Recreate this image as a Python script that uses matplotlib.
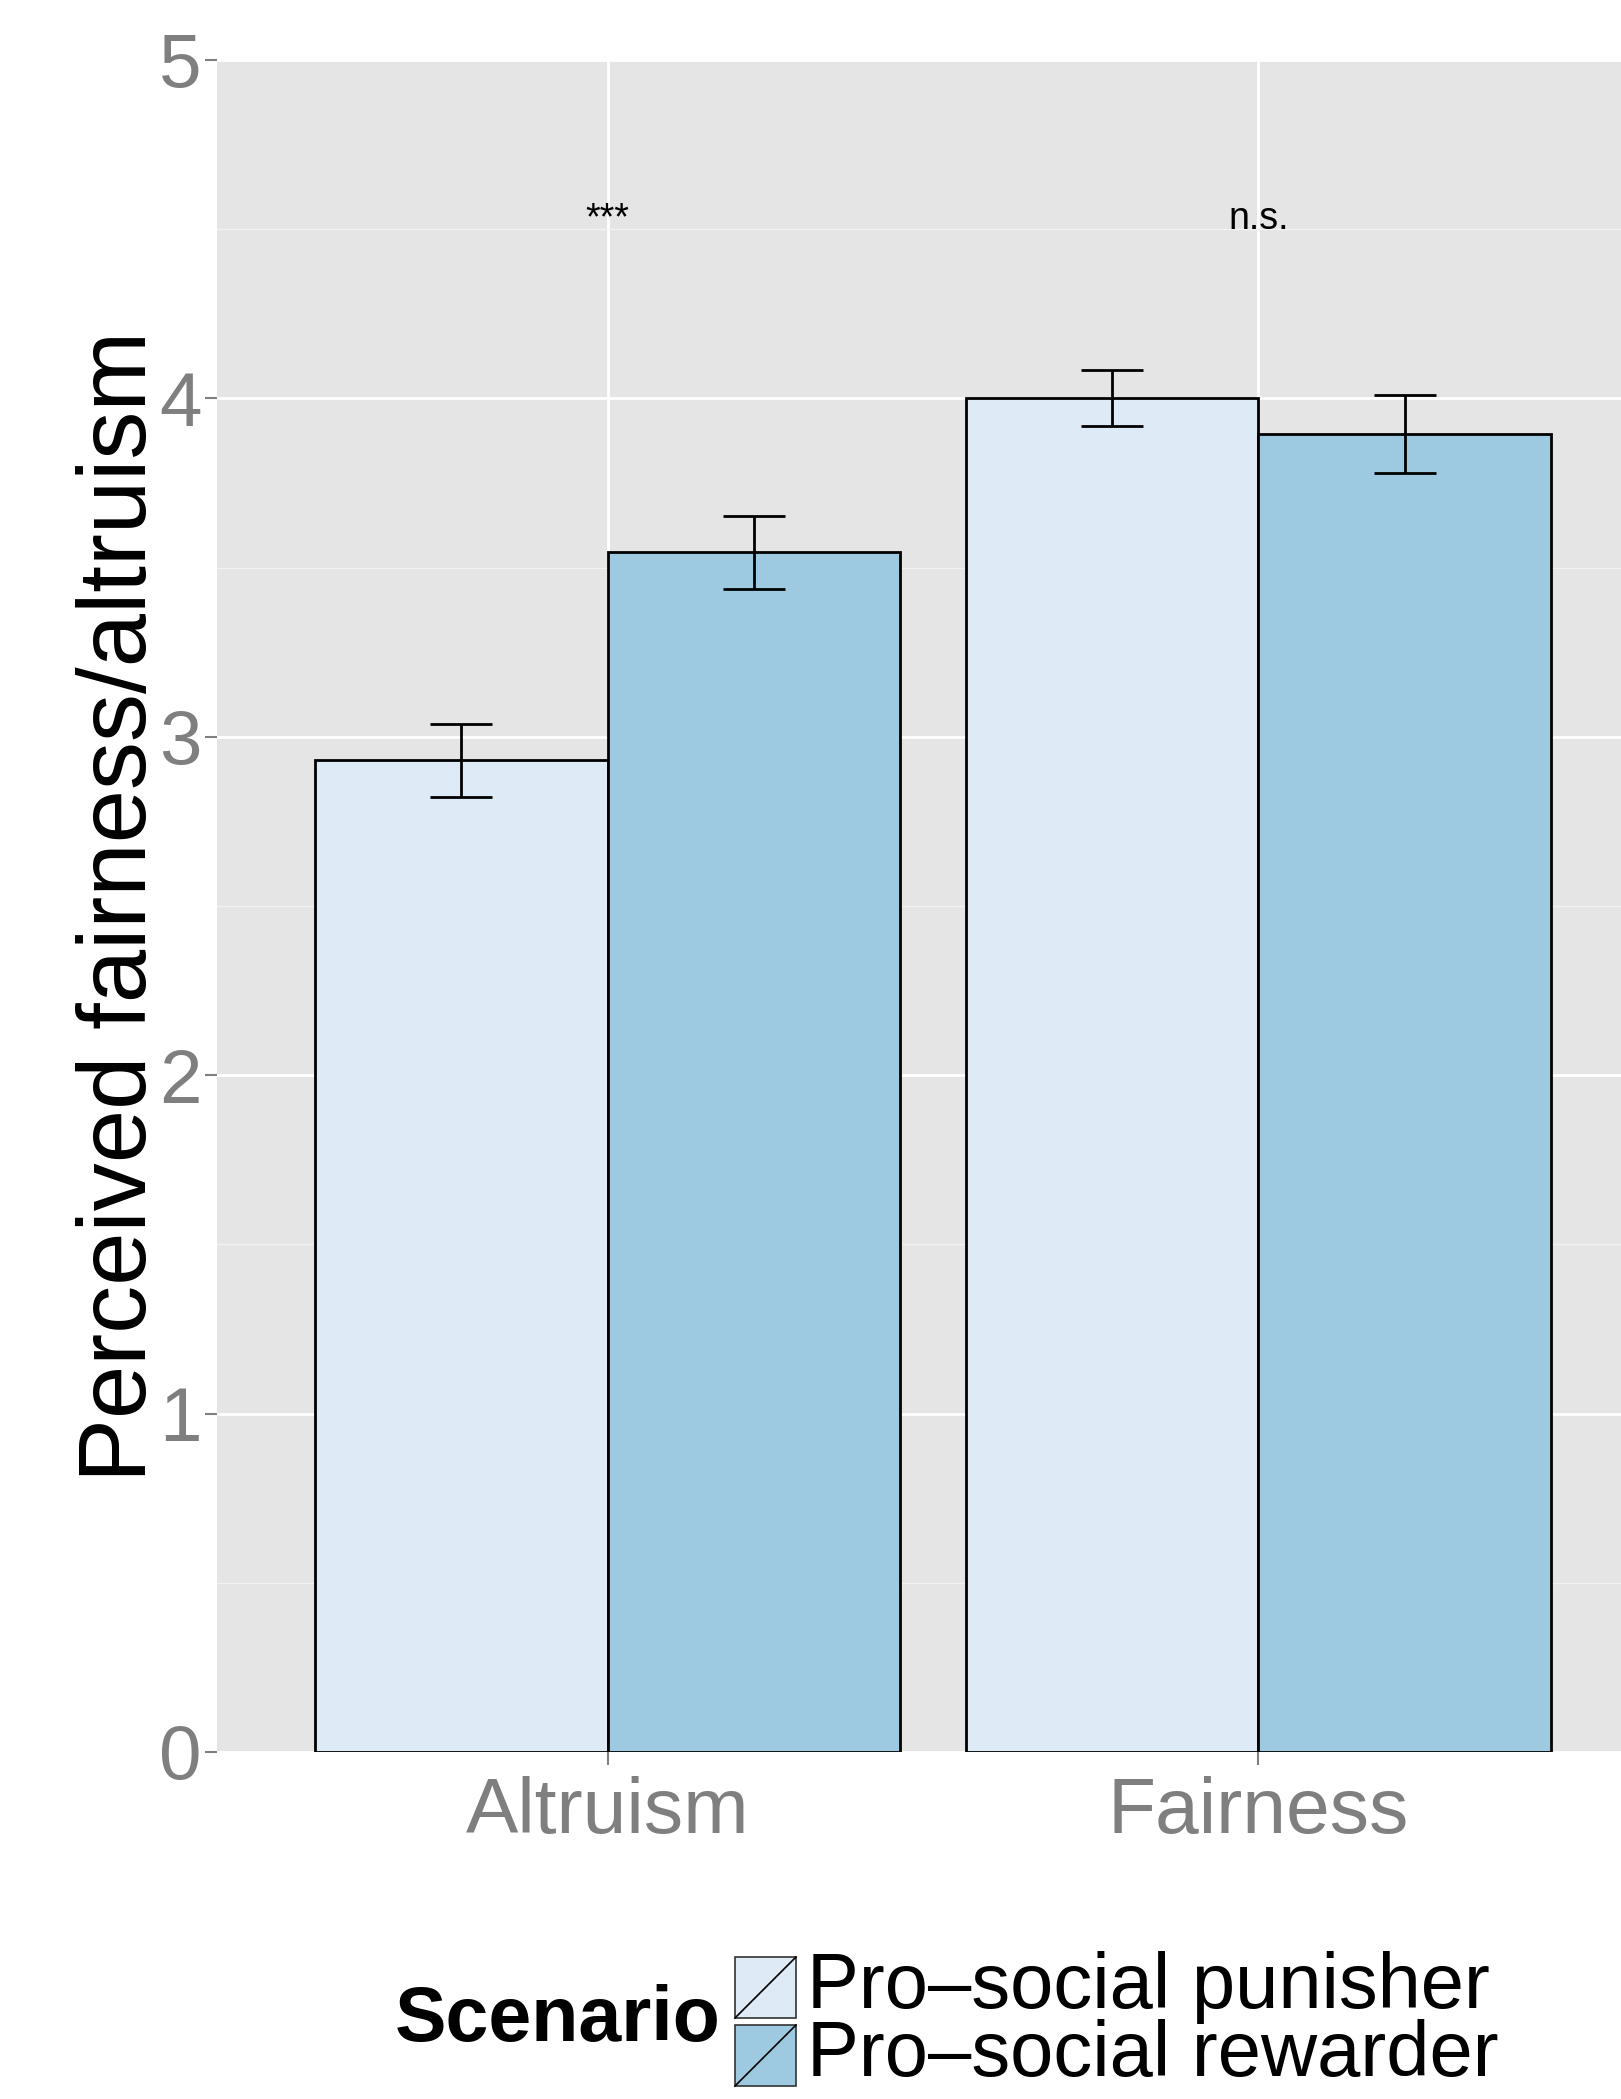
import numpy as np
import matplotlib
matplotlib.use("Agg")
from matplotlib import pyplot as plt
from matplotlib.patches import Rectangle
from matplotlib.lines import Line2D

plt.rcParams["font.family"] = ["Liberation Sans", "DejaVu Sans"]

# data
categories = ["Altruism", "Fairness"]
scenarios = ["Pro\u2013social punisher", "Pro\u2013social rewarder"]
means = {
    "Pro\u2013social punisher": [2.93, 4.00],
    "Pro\u2013social rewarder": [3.545, 3.895],
}
errors = {
    "Pro\u2013social punisher": [0.109, 0.083],
    "Pro\u2013social rewarder": [0.107, 0.116],
}
sig_labels = ["***", "n.s."]
sig_y = [4.53, 4.53]
colors = ["#DEEBF7", "#9ECAE1"]

W, H = 1621, 2099
fig = plt.figure(figsize=(W / 100, H / 100), dpi=100)
# panel box in pixels: left 217, top 60, bottom 1752, runs to the right edge
ax = fig.add_axes([217 / W, 1 - 1752 / H, 1 - 217 / W, (1752 - 60) / H])
ax.set_facecolor("#E5E5E5")
for s in ax.spines.values():
    s.set_visible(False)

x = np.arange(len(categories)) + 1
bw = 0.45
for i, sc in enumerate(scenarios):
    pos = x + (i - 0.5) * bw
    ax.bar(pos, means[sc], width=bw, color=colors[i], edgecolor="black",
           linewidth=2.0, zorder=3)
    ax.errorbar(pos, means[sc], yerr=errors[sc], fmt="none", ecolor="black",
                elinewidth=2.0, capsize=22.5, capthick=2.0, zorder=4)

for xi, lab, yy in zip(x, sig_labels, sig_y):
    ax.text(xi, yy, lab, ha="center", va="center", fontsize=27, color="black", zorder=5)

ax.set_xlim(0.4, 2.557)
ax.set_ylim(0, 5)
ax.set_xticks(x)
ax.set_xticklabels(categories)
ax.set_yticks(range(6))
ax.set_yticks(np.arange(0.5, 5, 1), minor=True)
ax.grid(which="major", color="white", linewidth=2.0, zorder=0)
ax.grid(which="minor", axis="y", color="#F2F2F2", linewidth=1.0, zorder=0)
ax.set_axisbelow(True)
ax.tick_params(axis="both", which="major", colors="#7F7F7F", labelsize=55,
               length=9, width=1.5)
ax.tick_params(axis="x", labelsize=56.5, pad=8)
ax.tick_params(axis="y", pad=2)
ax.tick_params(which="minor", length=0)
ax.set_ylabel("Perceived fairness/altruism", fontsize=69, color="black", labelpad=-5)

# legend drawn by hand at the bottom (ggplot style, title on the left)
fig.text(395 / W, 1 - 2021 / H, "Scenario", fontsize=55.5, fontweight="bold",
         ha="left", va="center")
key_x0, key_w, key_h = 735, 61, 61
key_tops = [1957, 2025]
for i, sc in enumerate(scenarios):
    top = key_tops[i]
    fig.add_artist(Rectangle((key_x0 / W, 1 - (top + key_h) / H), key_w / W, key_h / H,
                             transform=fig.transFigure, facecolor=colors[i],
                             edgecolor="#333333", linewidth=1.2))
    fig.add_artist(Line2D([key_x0 / W, (key_x0 + key_w) / W],
                          [1 - (top + key_h) / H, 1 - top / H],
                          transform=fig.transFigure, color="black", linewidth=1.2))
    fig.text(807 / W, 1 - (top + key_h / 2) / H, sc, fontsize=56,
             ha="left", va="center")

fig.savefig("out.png", dpi=100)
